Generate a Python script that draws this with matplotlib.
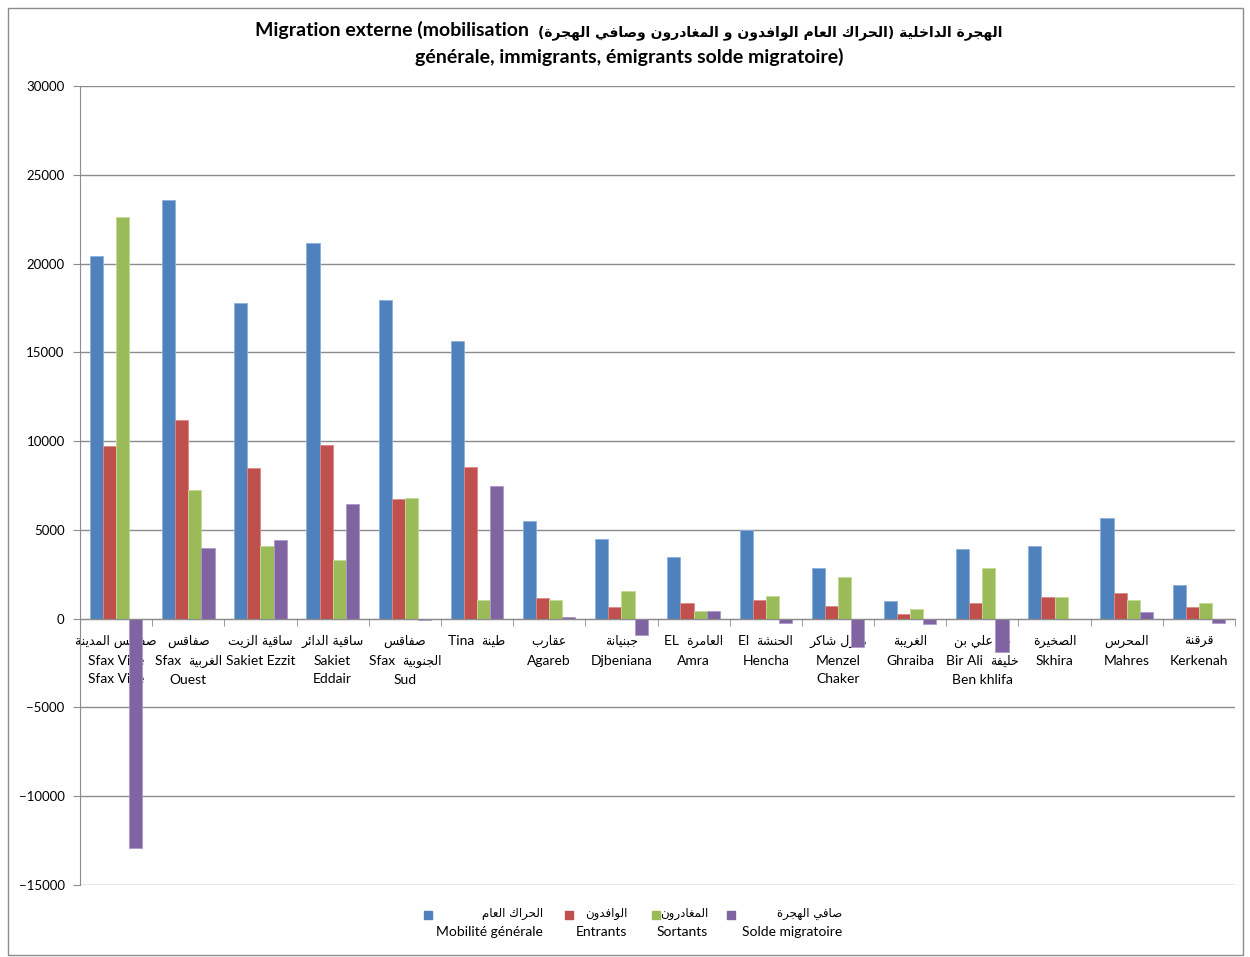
import numpy as np
import matplotlib
matplotlib.use('Agg')
import matplotlib.pyplot as plt
from matplotlib.patches import Rectangle
from matplotlib.offsetbox import TextArea, HPacker, VPacker, AnnotationBbox

plt.rcParams['font.family'] = ['Lato', 'DejaVu Sans']

# Arabic letters -> presentation forms (isolated, final, initial, medial)
FORMS = {
    'ا': ('\uFE8D', '\uFE8E', None, None),
    'ب': ('\uFE8F', '\uFE90', '\uFE91', '\uFE92'),
    'ة': ('\uFE93', '\uFE94', None, None),
    'ت': ('\uFE95', '\uFE96', '\uFE97', '\uFE98'),
    'ج': ('\uFE9D', '\uFE9E', '\uFE9F', '\uFEA0'),
    'ح': ('\uFEA1', '\uFEA2', '\uFEA3', '\uFEA4'),
    'خ': ('\uFEA5', '\uFEA6', '\uFEA7', '\uFEA8'),
    'د': ('\uFEA9', '\uFEAA', None, None),
    'ر': ('\uFEAD', '\uFEAE', None, None),
    'ز': ('\uFEAF', '\uFEB0', None, None),
    'س': ('\uFEB1', '\uFEB2', '\uFEB3', '\uFEB4'),
    'ش': ('\uFEB5', '\uFEB6', '\uFEB7', '\uFEB8'),
    'ص': ('\uFEB9', '\uFEBA', '\uFEBB', '\uFEBC'),
    'ط': ('\uFEC1', '\uFEC2', '\uFEC3', '\uFEC4'),
    'ع': ('\uFEC9', '\uFECA', '\uFECB', '\uFECC'),
    'غ': ('\uFECD', '\uFECE', '\uFECF', '\uFED0'),
    'ف': ('\uFED1', '\uFED2', '\uFED3', '\uFED4'),
    'ق': ('\uFED5', '\uFED6', '\uFED7', '\uFED8'),
    'ك': ('\uFED9', '\uFEDA', '\uFEDB', '\uFEDC'),
    'ل': ('\uFEDD', '\uFEDE', '\uFEDF', '\uFEE0'),
    'م': ('\uFEE1', '\uFEE2', '\uFEE3', '\uFEE4'),
    'ن': ('\uFEE5', '\uFEE6', '\uFEE7', '\uFEE8'),
    'ه': ('\uFEE9', '\uFEEA', '\uFEEB', '\uFEEC'),
    'و': ('\uFEED', '\uFEEE', None, None),
    'ي': ('\uFEF1', '\uFEF2', '\uFEF3', '\uFEF4'),
    'ئ': ('\uFE89', '\uFE8A', '\uFE8B', '\uFE8C'),
}


def ar(s):
    # shape arabic text and put it in visual (left to right) order
    out = []
    i = 0
    n = len(s)
    while i < n:
        c = s[i]
        if c not in FORMS:
            out.append(c)
            i += 1
            continue
        prev = s[i - 1] if i > 0 else ''
        join_prev = prev in FORMS and FORMS[prev][2] is not None
        if c == 'ل' and i + 1 < n and s[i + 1] == 'ا':
            out.append('\uFEFC' if join_prev else '\uFEFB')
            i += 2
            continue
        nxt = s[i + 1] if i + 1 < n else ''
        iso, fin, ini, med = FORMS[c]
        join_next = nxt in FORMS and ini is not None
        if join_prev and join_next:
            out.append(med)
        elif join_prev:
            out.append(fin)
        elif join_next:
            out.append(ini)
        else:
            out.append(iso)
        i += 1
    swap = {'(': ')', ')': '('}
    return ''.join(swap.get(c, c) for c in reversed(out))


def is_ar(ch):
    return '\u0600' <= ch <= '\u06FF'


def runs(line):
    # split a line into latin / arabic runs, left to right
    out = []
    for ch in line:
        a = is_ar(ch)
        if ch in ' ()' and out:
            a = out[-1][1]
        if out and out[-1][1] == a:
            out[-1][0] += ch
        else:
            out.append([ch, a])
    return out


def text_box(lines, size, ar_size, weight='normal', sep=1.0):
    rows = []
    for line in lines:
        parts = []
        for txt, a in runs(line):
            if a:
                parts.append(TextArea(ar(txt), textprops=dict(family='DejaVu Sans', fontsize=ar_size,
                                                              fontweight=weight, color='black')))
            else:
                parts.append(TextArea(txt, textprops=dict(family='Lato', fontsize=size,
                                                          fontweight=weight, color='black')))
        rows.append(HPacker(children=parts, align='baseline', pad=0, sep=0))
    return VPacker(children=rows, align='center', pad=0, sep=sep)


# data
labels = [
    ['صفاقس المدينة', 'Sfax Ville', 'Sfax Ville'],
    ['صفاقس', 'Sfax  الغربية', 'Ouest'],
    ['ساقية الزيت', 'Sakiet Ezzit'],
    ['ساقية الدائر', 'Sakiet', 'Eddair'],
    ['صفاقس', 'Sfax  الجنوبية', 'Sud'],
    ['Tina  طينة'],
    ['عقارب', 'Agareb'],
    ['جبنيانة', 'Djbeniana'],
    ['EL  العامرة', 'Amra'],
    ['El  الحنشة', 'Hencha'],
    ['منزل شاكر', 'Menzel', 'Chaker'],
    ['الغريبة', 'Ghraiba'],
    ['بئر علي بن', 'Bir Ali  خليفة', 'Ben khlifa'],
    ['الصخيرة', 'Skhira'],
    ['المحرس', 'Mahres'],
    ['قرقنة', 'Kerkenah'],
]
mobilite = [20400, 23600, 17800, 21150, 17950, 15650, 5500, 4500, 3450, 5000, 2870, 1000, 3950, 4100, 5650, 1900]
entrants = [9730, 11200, 8500, 9800, 6750, 8550, 1180, 640, 880, 1050, 730, 260, 860, 1220, 1420, 660]
sortants = [22650, 7250, 4100, 3320, 6800, 1070, 1070, 1560, 450, 1280, 2350, 560, 2830, 1220, 1070, 900]
solde = [-12920, 3980, 4450, 6480, -90, 7480, 110, -900, 410, -220, -1600, -280, -1900, -30, 380, -240]

names_ar = ['الحراك العام', 'الوافدون', 'المغادرون', 'صافي الهجرة']
names_fr = ['Mobilité générale', 'Entrants', 'Sortants', 'Solde migratoire']
title_lines = ['Migration externe (mobilisation  الهجرة الداخلية (الحراك العام الوافدون و المغادرون وصافي الهجرة)',
               'générale, immigrants, émigrants solde migratoire)']

colors = ['#4F81BD', '#C0504D', '#9BBB59', '#8064A2']
edges = ['#8EB0DB', '#DA8A88', '#C3DA96', '#AE98C8']

W, H = 1250, 957
fig = plt.figure(figsize=(W / 100, H / 100), dpi=100)
ax = fig.add_axes([80 / W, 1 - 885 / H, 1155 / W, 799 / H])

x = np.arange(len(labels))
w = 1 / 5.5
for k, vals in enumerate([mobilite, entrants, sortants, solde]):
    ax.bar(x + (k - 1.5) * w, vals, width=w, color=colors[k], edgecolor=edges[k],
           linewidth=0.6, zorder=1)

ax.set_axisbelow(True)
ax.set_xlim(-0.5, len(labels) - 0.5)
ax.set_ylim(-15000, 30000)
ax.set_yticks(range(-15000, 30001, 5000))
ax.yaxis.grid(True, color='#8C8C8C', linewidth=1)

for s in ['top', 'right']:
    ax.spines[s].set_visible(False)
ax.spines['left'].set_color('#8C8C8C')
ax.spines['bottom'].set_color('#8C8C8C')
ax.spines['bottom'].set_position(('data', 0))

ax.set_xticks(x)
ax.set_xticklabels([])
ax.set_xticks(np.arange(-0.5, len(labels), 1), minor=True)
ax.tick_params(axis='x', which='major', length=0)
ax.tick_params(axis='x', which='minor', length=5, color='#8C8C8C', direction='out')
ax.tick_params(axis='y', length=5, color='#8C8C8C', labelsize=9.5, pad=6)

# category labels below the zero line
for i, lines in enumerate(labels):
    ab = AnnotationBbox(text_box(lines, 10, 9, sep=4.5), (i, 0), xycoords='data',
                        xybox=(0, -12), boxcoords='offset points', box_alignment=(0.5, 1.0),
                        frameon=False, pad=0, annotation_clip=False, zorder=0.8)
    ax.add_artist(ab)

# title
tb = AnnotationBbox(text_box(title_lines, 14, 10, weight='bold', sep=5.5), (629 / W, 1 - 21 / H),
                    xycoords='figure fraction', box_alignment=(0.5, 1.0), frameon=False, pad=0)
fig.add_artist(tb)

# legend
leg_marker_x = [424, 565, 652, 727]
leg_text_right = [543, 627, 708, 842]
for k in range(4):
    fig.patches.append(Rectangle((leg_marker_x[k] / W, 1 - 919 / H), 8 / W, 8 / H,
                                 transform=fig.transFigure, color=colors[k]))
    fig.text(leg_text_right[k] / W, 1 - 914 / H, ar(names_ar[k]), ha='right', va='center',
             family='DejaVu Sans', fontsize=8.5)
    fig.text(leg_text_right[k] / W, 1 - 932 / H, names_fr[k], ha='right', va='center',
             family='Lato', fontsize=10)

fig.patches.append(Rectangle((8 / W, 1 - 955 / H), 1235 / W, 947 / H,
                             transform=fig.transFigure, fill=False,
                             edgecolor='#8C8C8C', linewidth=1))

plt.savefig('out.png', dpi=100)
